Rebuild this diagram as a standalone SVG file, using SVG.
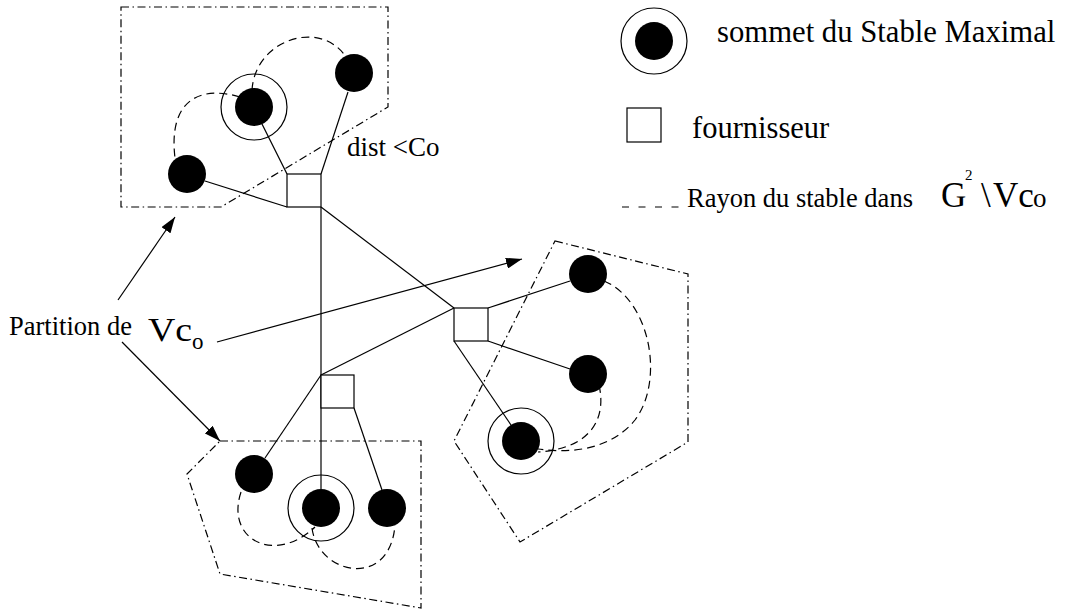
<svg xmlns="http://www.w3.org/2000/svg" width="1074" height="610" viewBox="0 0 1074 610">
<defs>
<style>
.ln{stroke:#000;stroke-width:1.2;fill:none}
.part{stroke:#000;stroke-width:1.2;fill:none;stroke-dasharray:8,3.5,1.5,3.5}
.arc{stroke:#000;stroke-width:1.2;fill:none;stroke-dasharray:8,5}
.sq{stroke:#000;stroke-width:1.2;fill:#fff}
.v{fill:#000}
.ring{stroke:#000;stroke-width:1.2;fill:none}
.t{font-family:"Liberation Serif","Times New Roman",serif;fill:#000}
</style>
<marker id="ah" markerUnits="userSpaceOnUse" markerWidth="17" markerHeight="11" refX="16" refY="5.5" orient="auto">
<path d="M0,0 L16,5.5 L0,11 Z" fill="#000"/>
</marker>
</defs>
<rect width="1074" height="610" fill="#fff"/>

<g id="partitions">
<polygon class="part" points="121,7 388,7 388,107 221,207 121,207"/>
<polygon class="part" points="555,241 688,274 688,442 520,542 454,441"/>
<polygon class="part" points="220,441 421,441 421,608 220,574 187,474"/>
</g>

<g id="rayons">
<path class="arc" d="M252,90 C255,40 320,18 346,57"/>
<path class="arc" d="M240,97 C200,85 168,100 175,158"/>
<path class="arc" d="M604,281 C650,300 665,380 635,420 C615,445 580,455 538,449"/>
<path class="arc" d="M599,385 C606,415 595,448 538,452"/>
<path class="arc" d="M241,492 C225,540 275,565 315,527"/>
<path class="arc" d="M312,528 C318,575 390,590 395,525"/>
</g>

<g id="connectors">
<line class="ln" x1="262" y1="124" x2="287" y2="174"/>
<line class="ln" x1="348" y1="92" x2="321" y2="174"/>
<line class="ln" x1="205" y1="181" x2="287" y2="207"/>
<line class="ln" x1="321" y1="207" x2="321" y2="489"/>
<line class="ln" x1="321" y1="207" x2="454" y2="308"/>
<line class="ln" x1="454" y1="308" x2="321" y2="375"/>
<line class="ln" x1="488" y1="308" x2="570" y2="281"/>
<line class="ln" x1="488" y1="341" x2="570" y2="369"/>
<line class="ln" x1="454" y1="341" x2="511" y2="425"/>
<line class="ln" x1="321" y1="375" x2="265" y2="458"/>
<line class="ln" x1="354" y1="408" x2="382" y2="490"/>
<line class="ln" x1="118" y1="300" x2="175" y2="217" marker-end="url(#ah)"/>
<line class="ln" x1="122" y1="342" x2="220" y2="441" marker-end="url(#ah)"/>
<line class="ln" x1="217" y1="342" x2="522" y2="259" marker-end="url(#ah)"/>
</g>

<g id="fournisseur-1"><rect class="sq" x="287" y="174" width="34" height="33"/></g>
<g id="fournisseur-2"><rect class="sq" x="454" y="308" width="34" height="33"/></g>
<g id="fournisseur-3"><rect class="sq" x="321" y="375" width="33" height="33"/></g>

<g id="s1"><circle class="ring" cx="254" cy="107" r="33"/><circle class="v" cx="254" cy="107" r="19"/></g>
<g id="s2"><circle class="v" cx="354" cy="73" r="19"/></g>
<g id="s3"><circle class="v" cx="187" cy="174" r="19"/></g>
<g id="s4"><circle class="v" cx="588" cy="274" r="19"/></g>
<g id="s5"><circle class="v" cx="588" cy="374" r="19"/></g>
<g id="s6"><circle class="ring" cx="521" cy="441" r="33"/><circle class="v" cx="521" cy="441" r="19"/></g>
<g id="s7"><circle class="v" cx="254" cy="474" r="19"/></g>
<g id="s8"><circle class="ring" cx="321" cy="508" r="33"/><circle class="v" cx="321" cy="508" r="19"/></g>
<g id="s9"><circle class="v" cx="387" cy="508" r="19"/></g>

<g id="labels">
<text class="t" x="347" y="156" font-size="27">dist &lt;Co</text>
<text class="t" x="9" y="335" font-size="26.5">Partition de</text>
<text class="t" x="148" y="341" font-size="33" textLength="44" lengthAdjust="spacingAndGlyphs">Vc</text>
<text class="t" x="192" y="349" font-size="23">o</text>
</g>

<g id="legend">
<circle class="ring" cx="654" cy="41" r="33"/><circle class="v" cx="654" cy="41" r="19"/>
<text class="t" x="717" y="42" font-size="30.7">sommet du Stable Maximal</text>
<rect class="sq" x="627" y="108" width="34" height="34"/>
<text class="t" x="692" y="138" font-size="30.5">fournisseur</text>
<line x1="622" y1="207" x2="684" y2="207" stroke="#555" stroke-width="1.3" stroke-dasharray="7,9.5"/>
<text class="t" x="687" y="207" font-size="26.5">Rayon du stable dans</text>
<text class="t" x="941" y="207" font-size="35">G</text>
<text class="t" x="965" y="180" font-size="15">2</text>
<text class="t" x="981" y="207" font-size="35">\</text>
<text class="t" x="993" y="207" font-size="35">Vc</text>
<text class="t" x="1033" y="207" font-size="27">o</text>
</g>
</svg>
